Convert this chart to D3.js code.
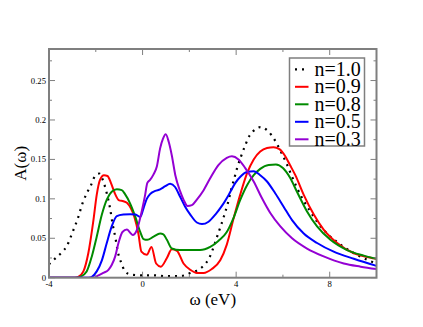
<!DOCTYPE html>
<html><head><meta charset="utf-8">
<script src="https://cdn.jsdelivr.net/npm/d3@7"></script>
<style>body{margin:0;background:#fff}svg{display:block}</style>
</head><body>
<script>
const xTicks = [-4, 0, 4, 8];
const yTicks = [0, 0.05, 0.1, 0.15, 0.2, 0.25];
const yTickLabels = ["0", "0.05", "0.1", "0.15", "0.2", "0.25"];
const seriesNames = ["n=1.0", "n=0.9", "n=0.8", "n=0.5", "n=0.3"];
const seriesColors = ["#000000", "#ff0000", "#008b00", "#0000ff", "#9400d3"];

const n10 = [[-4,0.017],[-3.71,0.025],[-3.46,0.032],[-3.24,0.040],[-2.99,0.058],[-2.77,0.075],[-2.56,0.095],[-2.39,0.107],[-2.21,0.117],[-2.03,0.129],[-1.85,0.132],[-1.7,0.124],[-1.53,0.107],[-1.39,0.088],[-1.28,0.068],[-1.17,0.052],[-1.05,0.032],[-0.9,0.018],[-0.75,0.008],[-0.5,0.004],[0,0.003],[0.5,0.003],[1.0,0.002],[1.5,0.002],[1.8,0.003],[2.04,0.006],[2.32,0.009],[2.6,0.015],[2.85,0.025],[3.05,0.040],[3.22,0.055],[3.36,0.067],[3.5,0.080],[3.65,0.095],[3.79,0.112],[3.93,0.127],[4.05,0.140],[4.2,0.153],[4.39,0.168],[4.57,0.180],[4.82,0.188],[5.03,0.191],[5.32,0.187],[5.53,0.180],[5.72,0.171],[5.96,0.157],[6.18,0.143],[6.39,0.128],[6.6,0.114],[6.82,0.101],[7.17,0.084],[7.46,0.071],[7.89,0.056],[8.24,0.047],[8.6,0.039],[9.17,0.029],[9.74,0.021],[10,0.018]];
const n09 = [[-4,0],[-2.9,0],[-2.75,0.001],[-2.53,0.008],[-2.32,0.031],[-2.1,0.073],[-1.96,0.105],[-1.82,0.124],[-1.65,0.130],[-1.5,0.129],[-1.35,0.120],[-1.2,0.108],[-1.0,0.098],[-0.82,0.097],[-0.67,0.095],[-0.5,0.088],[-0.35,0.077],[-0.18,0.056],[-0.05,0.033],[0.18,0.029],[0.38,0.039],[0.58,0.018],[0.78,0.014],[1.04,0.025],[1.25,0.036],[1.47,0.034],[1.75,0.018],[2.04,0.010],[2.32,0.006],[2.61,0.006],[2.96,0.011],[3.32,0.022],[3.6,0.042],[3.89,0.075],[4.18,0.106],[4.46,0.132],[4.75,0.150],[5.03,0.160],[5.32,0.1645],[5.6,0.1655],[5.85,0.163],[6.1,0.154],[6.3,0.143],[6.53,0.130],[6.89,0.105],[7.32,0.080],[7.74,0.061],[8.32,0.044],[9.03,0.031],[9.5,0.027],[10,0.024]];
const n08 = [[-4,0],[-2.8,0],[-2.67,0.001],[-2.39,0.008],[-2.17,0.027],[-1.96,0.052],[-1.74,0.080],[-1.53,0.099],[-1.32,0.109],[-1.1,0.112],[-0.89,0.111],[-0.75,0.106],[-0.53,0.094],[-0.32,0.078],[-0.1,0.058],[0.04,0.049],[0.2,0.048],[0.47,0.052],[0.75,0.056],[0.89,0.055],[1.04,0.048],[1.25,0.037],[1.6,0.035],[2.04,0.035],[2.46,0.035],[2.89,0.039],[3.25,0.047],[3.6,0.058],[3.89,0.076],[4.18,0.099],[4.46,0.117],[4.75,0.130],[5.03,0.138],[5.39,0.143],[5.7,0.1435],[6.0,0.139],[6.3,0.127],[6.6,0.109],[7.03,0.084],[7.46,0.065],[8.03,0.048],[8.74,0.035],[9.46,0.028],[10,0.024]];
const n05 = [[-4,0],[-2.3,0],[-2.17,0.001],[-1.96,0.008],[-1.74,0.022],[-1.53,0.044],[-1.32,0.065],[-1.1,0.078],[-0.82,0.080],[-0.53,0.0805],[-0.3,0.080],[-0.1,0.077],[0.04,0.088],[0.18,0.100],[0.32,0.106],[0.54,0.110],[0.75,0.112],[0.97,0.116],[1.18,0.119],[1.39,0.115],[1.6,0.103],[1.82,0.090],[2.04,0.080],[2.32,0.070],[2.54,0.068],[2.82,0.071],[3.11,0.080],[3.39,0.091],[3.68,0.105],[3.96,0.120],[4.18,0.128],[4.46,0.134],[4.75,0.135],[5.03,0.130],[5.32,0.122],[5.67,0.107],[6.03,0.090],[6.39,0.073],[6.89,0.056],[7.46,0.044],[8.17,0.033],[9.03,0.024],[10,0.015]];
const n03 = [[-4,0],[-2.1,0],[-1.89,0.003],[-1.68,0.006],[-1.46,0.010],[-1.32,0.016],[-1.17,0.027],[-1.03,0.044],[-0.86,0.058],[-0.67,0.061],[-0.53,0.057],[-0.42,0.054],[-0.25,0.060],[-0.03,0.085],[0.11,0.105],[0.2,0.120],[0.32,0.124],[0.47,0.131],[0.61,0.141],[0.75,0.164],[0.87,0.176],[0.99,0.182],[1.12,0.172],[1.25,0.155],[1.4,0.130],[1.6,0.110],[1.75,0.099],[1.92,0.091],[2.11,0.092],[2.32,0.099],[2.61,0.111],[2.89,0.126],[3.25,0.143],[3.6,0.152],[3.82,0.154],[4.1,0.150],[4.39,0.139],[4.75,0.122],[5.1,0.101],[5.46,0.082],[5.89,0.065],[6.39,0.050],[7.03,0.037],[7.74,0.027],[8.6,0.018],[9.32,0.014],[10,0.011]];
const seriesData = [n10, n09, n08, n05, n03];

const FONT = "Liberation Serif";
const W = 423, H = 327;
const m = {left: 49, top: 49, right: 376.5, bottom: 277.7};
const svg = d3.select("body").append("svg").attr("width", W).attr("height", H);
const x = d3.scaleLinear().domain([-4, 10]).range([m.left, m.right]);
const y = d3.scaleLinear().domain([0, 0.29]).range([m.bottom, m.top]);

svg.append("clipPath").attr("id", "plotclip").append("rect")
  .attr("x", m.left).attr("y", m.top).attr("width", m.right - m.left).attr("height", m.bottom - m.top);

const line = d3.line().x(d => x(d[0])).y(d => y(d[1])).curve(d3.curveMonotoneX);
const g = svg.append("g").attr("clip-path", "url(#plotclip)");
seriesData.forEach((s, i) => {
  g.append("path").datum(s).attr("d", line).attr("fill", "none")
    .attr("stroke", seriesColors[i]).attr("stroke-width", i === 0 ? 2.2 : 2)
    .attr("stroke-dasharray", i === 0 ? "2,5" : null)
    .attr("stroke-linejoin", "round");
});

const axisColor = "#7f7f7f";
const xMinor = d3.range(-4, 10.01, 2);
const yMinor = d3.range(0, 0.2901, 0.025);
const axG = svg.append("g");
xMinor.forEach(v => {
  const major = Math.abs(v % 4) < 1e-9;
  const len = major ? 6 : 3;
  axG.append("line").attr("x1", x(v)).attr("x2", x(v)).attr("y1", m.bottom).attr("y2", m.bottom - len).attr("stroke", axisColor);
  axG.append("line").attr("x1", x(v)).attr("x2", x(v)).attr("y1", m.top).attr("y2", m.top + len).attr("stroke", axisColor);
});
yMinor.forEach((v, i) => {
  const major = i % 2 === 0;
  const len = major ? 6 : 3;
  axG.append("line").attr("y1", y(v)).attr("y2", y(v)).attr("x1", m.left).attr("x2", m.left + len).attr("stroke", axisColor);
  axG.append("line").attr("y1", y(v)).attr("y2", y(v)).attr("x1", m.right).attr("x2", m.right - len).attr("stroke", axisColor);
});
axG.append("rect").attr("x", m.left).attr("y", m.top).attr("width", m.right - m.left).attr("height", m.bottom - m.top)
  .attr("fill", "none").attr("stroke", axisColor).attr("stroke-width", 2);

xTicks.forEach(v => {
  svg.append("text").attr("x", x(v)).attr("y", m.bottom + 9.5).attr("text-anchor", "middle")
    .attr("font-family", FONT).attr("font-size", 8.7).text(v < 0 ? "-" + Math.abs(v) : String(v));
});
yTicks.forEach((v, i) => {
  svg.append("text").attr("x", m.left - 3).attr("y", y(v) + 3).attr("text-anchor", "end")
    .attr("font-family", FONT).attr("font-size", 8.7).text(yTickLabels[i]);
});

svg.append("text").attr("x", (m.left + m.right) / 2).attr("y", 305).attr("text-anchor", "middle")
  .attr("font-family", FONT).attr("font-size", 17).text("ω (eV)");
svg.append("text").attr("transform", `translate(26,${(m.top + m.bottom) / 2}) rotate(-90)`)
  .attr("text-anchor", "middle").attr("font-family", FONT).attr("font-size", 17).text("A(ω)");

const lg = svg.append("g");
lg.append("rect").attr("x", 289.5).attr("y", 58).attr("width", 75).attr("height", 88)
  .attr("fill", "#fff").attr("stroke", axisColor).attr("stroke-width", 1.5);
seriesNames.forEach((name, i) => {
  const cy = 69.3 + i * 17.5;
  lg.append("line").attr("x1", 295).attr("x2", 308.5).attr("y1", cy).attr("y2", cy)
    .attr("stroke", seriesColors[i]).attr("stroke-width", i === 0 ? 2.2 : 2)
    .attr("stroke-dasharray", i === 0 ? "2,5" : null);
  lg.append("text").attr("x", 314.5).attr("y", cy + 6.5).attr("font-family", FONT)
    .attr("font-size", 20).text(name);
});
</script>
</body></html>
